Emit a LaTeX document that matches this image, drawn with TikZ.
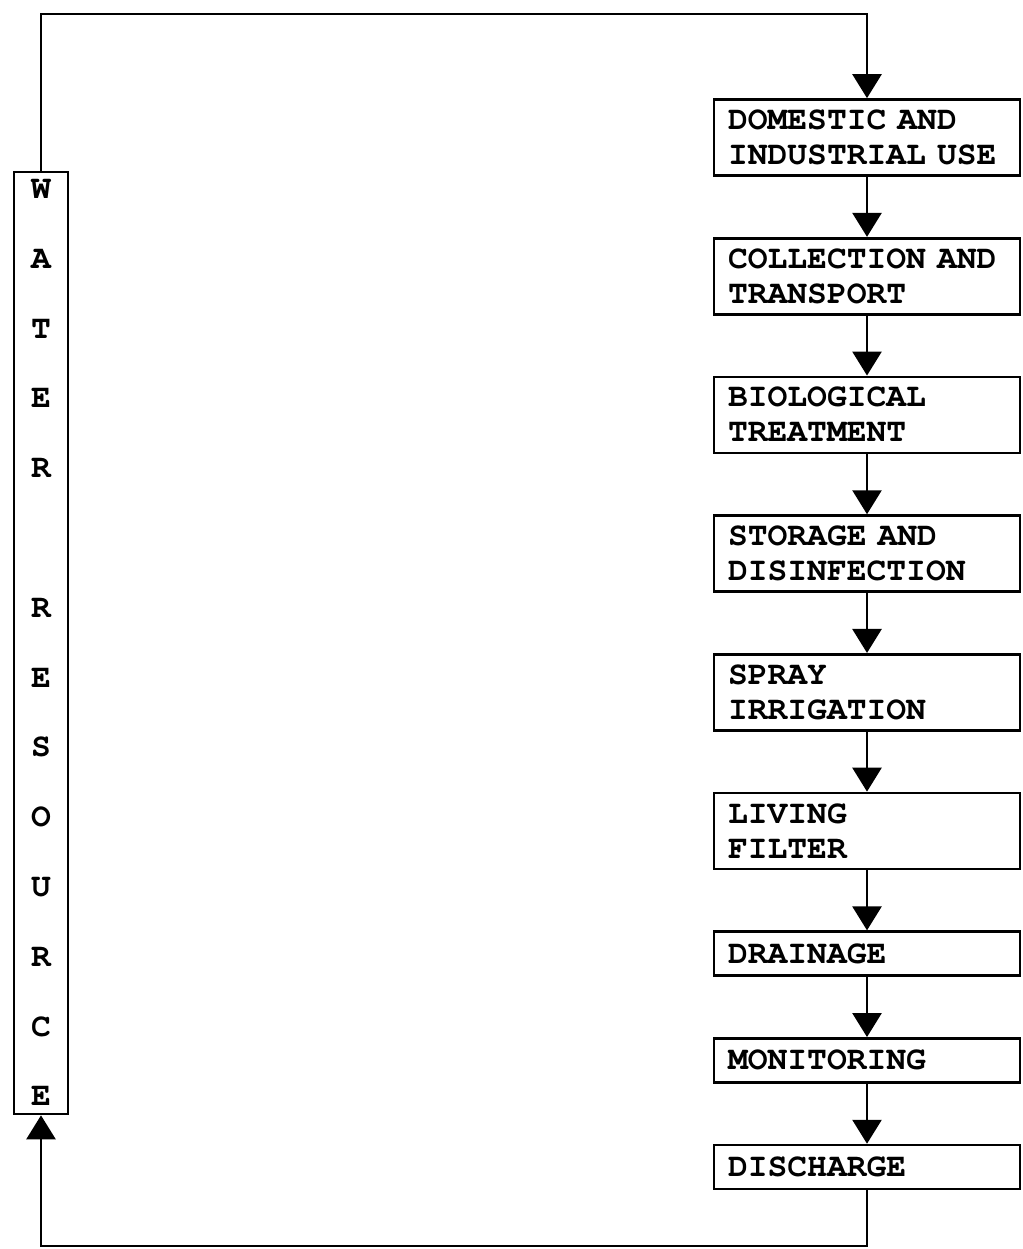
\documentclass[tikz,border=0pt]{standalone}
\usepackage[T1]{fontenc}
\usepackage{courier}
\usepackage{tikz}
\usetikzlibrary{arrows.meta, positioning}

\newcommand{\typeface}[1]{\fontsize{33}{#1}\selectfont\ttfamily\bfseries\fontdimen2\font=19.8pt\relax}

\begin{document}
\begin{tikzpicture}[x=1pt, y=-1pt, node distance={60pt}, line width=2.7pt,
        main/.style = {draw, rectangle, text width=278pt, inner xsep=14pt, inner ysep=0pt, align=left, minimum height=76pt, font=\typeface{35}},
        short/.style = {main, minimum height=44pt},
        side/.style = {draw, rectangle, minimum width=54pt, minimum height=942pt, inner sep=0pt, align=center, font=\typeface{69.8}},
        arr/.style = {-{Triangle[width=29pt,length=24pt]}}]
            \useasboundingbox (0,0) rectangle (1022,1249);

            \node[side] (WR) at (41,643) {W\\A\\T\\E\\R\\[69.8pt]R\\E\\S\\O\\U\\R\\C\\E};

            \node[main] (DIU) at (867,137.5) {DOMESTIC AND\\INDUSTRIAL USE};
            \node[main] (CT) [below=of DIU] {COLLECTION AND\\TRANSPORT};
            \node[main] (BT) [below=of CT] {BIOLOGICAL\\TREATMENT};
            \node[main] (SD) [below=of BT] {STORAGE AND\\DISINFECTION};
            \node[main] (SI) [below=of SD] {SPRAY\\IRRIGATION};
            \node[main] (LF) [below=of SI] {LIVING\\FILTER};
            \node[short] (DR) [below=of LF] {DRAINAGE};
            \node[short] (MO) [below=of DR] {MONITORING};
            \node[short] (DI) [below=of MO] {DISCHARGE};

            \coordinate (top) at (450,14);
            \coordinate (bot) at (450,1246);

            \path[arr] (DIU) edge (CT);
            \path[arr] (CT) edge (BT);
            \path[arr] (BT) edge (SD);
            \path[arr] (SD) edge (SI);
            \path[arr] (SI) edge (LF);
            \path[arr] (LF) edge (DR);
            \path[arr] (DR) edge (MO);
            \path[arr] (MO) edge (DI);

            \draw[arr] (WR.north) |- (top) -| (DIU.north);
            \draw[arr] (DI.south) |- (bot) -| (WR.south);
        \end{tikzpicture}
\end{document}
